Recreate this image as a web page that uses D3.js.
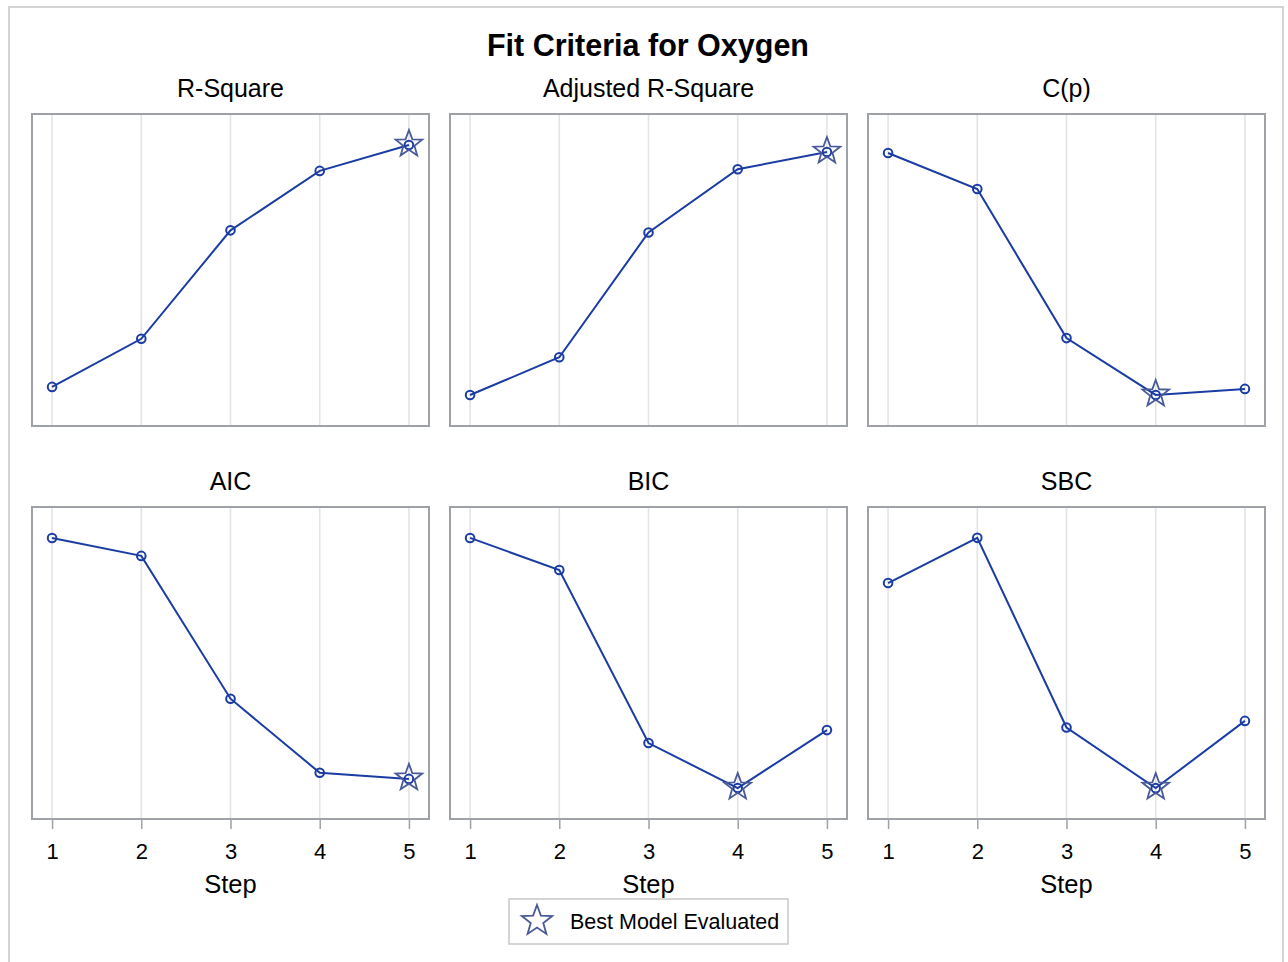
<!DOCTYPE html>
<html>
<head>
<meta charset="utf-8">
<script src="https://cdn.jsdelivr.net/npm/d3@7"></script>
<style>
  body { margin: 0; background: #fff; }
  svg { display: block; font-family: 'Liberation Sans', Arial, sans-serif; }
</style>
</head>
<body>
<div id="chart"></div>
<script>
// fit statistics by step of the stepwise selection
const steps = [1, 2, 3, 4, 5];
const panelTitles = ['R-Square', 'Adjusted R-Square', 'C(p)', 'AIC', 'BIC', 'SBC'];
const rSquare = [0.7434, 0.7642, 0.8111, 0.8368, 0.8480];
const adjRSquare = [0.7345, 0.7474, 0.7901, 0.8117, 0.8176];
const cp = [13.70, 12.39, 6.96, 4.89, 5.11];
const aic = [64.53, 63.92, 59.04, 56.51, 56.30];
const bic = [66.70, 65.63, 59.87, 58.37, 60.30];
const sbc = [67.40, 68.22, 64.78, 63.68, 64.90];
// larger is better for the first two, smaller for the rest
const bestIsMax = [true, true, false, false, false, false];
// y axis ranges (axes are hidden in the original)
const yDomains = [
  [0.7265, 0.8614],
  [0.7239, 0.8306],
  [3.76, 15.12],
  [54.93, 65.59],
  [57.34, 67.73],
  [63.12, 68.78],
];
const series = [rSquare, adjRSquare, cp, aic, bic, sbc];

const W = 1288, H = 962;
const lineColor = '#1a3ca3';
const starColor = '#4a5a98';
const colX = [32, 450, 868];
const rowY = [114, 507];
const pw = 397, ph = 312;

const svg = d3.select('#chart').append('svg')
  .attr('width', W).attr('height', H);

// outer frame
svg.append('path')
  .attr('d', `M9,${H} V7 H1283 V${H}`)
  .attr('fill', 'none')
  .attr('stroke', '#d4d4d4')
  .attr('stroke-width', 2);

svg.append('text')
  .attr('x', 648).attr('y', 56)
  .attr('text-anchor', 'middle')
  .style('font-size', '30.5px').style('font-weight', 'bold')
  .text('Fit Criteria for Oxygen');

function starPath(cx, cy, R, r) {
  const pts = [];
  for (let i = 0; i < 10; i++) {
    const a = -Math.PI / 2 + i * Math.PI / 5;
    const rad = i % 2 === 0 ? R : r;
    pts.push([cx + rad * Math.cos(a), cy + rad * Math.sin(a)]);
  }
  return 'M' + pts.map(p => p.join(',')).join('L') + 'Z';
}

series.forEach((vals, i) => {
  const col = i % 3, row = Math.floor(i / 3);
  const x0 = colX[col], y0 = rowY[row];
  const x = d3.scaleLinear().domain([0.775, 5.225]).range([x0, x0 + pw]);
  const y = d3.scaleLinear().domain(yDomains[i]).range([y0 + ph, y0]);
  const g = svg.append('g');

  g.append('text')
    .attr('x', x0 + pw / 2).attr('y', y0 - 17)
    .attr('text-anchor', 'middle')
    .style('font-size', '25px')
    .text(panelTitles[i]);

  // vertical grid
  g.selectAll('.grid').data(steps).enter().append('line')
    .attr('x1', d => x(d)).attr('x2', d => x(d))
    .attr('y1', y0).attr('y2', y0 + ph)
    .attr('stroke', '#e4e4e4').attr('stroke-width', 1.6);

  const line = d3.line().x((d, j) => x(steps[j])).y(d => y(d));
  g.append('path').datum(vals)
    .attr('d', line)
    .attr('fill', 'none').attr('stroke', lineColor).attr('stroke-width', 2);

  g.selectAll('.pt').data(vals).enter().append('circle')
    .attr('cx', (d, j) => x(steps[j])).attr('cy', d => y(d))
    .attr('r', 4.3)
    .attr('fill', 'none').attr('stroke', lineColor).attr('stroke-width', 2);

  const best = bestIsMax[i] ? d3.maxIndex(vals) : d3.minIndex(vals);
  g.append('path')
    .attr('d', starPath(x(steps[best]), y(vals[best]) - 1, 14, 5.8))
    .attr('fill', 'none').attr('stroke', starColor).attr('stroke-width', 1.8);

  g.append('rect')
    .attr('x', x0).attr('y', y0).attr('width', pw).attr('height', ph)
    .attr('fill', 'none').attr('stroke', '#9ea1a6').attr('stroke-width', 2);

  if (row === 1) {
    const axis = d3.axisBottom(x).tickValues(steps).tickSize(9).tickPadding(14)
      .tickFormat(d3.format('d'));
    const ax = g.append('g')
      .attr('transform', `translate(0,${y0 + ph + 1})`)
      .call(axis);
    ax.select('.domain').remove();
    ax.selectAll('.tick line').attr('stroke', '#9ea1a6').attr('stroke-width', 1.5);
    ax.selectAll('.tick text')
      .attr('fill', '#000')
      .style('font-size', '22px')
      .style('font-family', "'Liberation Sans', Arial, sans-serif");

    g.append('text')
      .attr('x', x0 + pw / 2).attr('y', 893)
      .attr('text-anchor', 'middle')
      .style('font-size', '25.5px')
      .text('Step');
  }
});

// legend
const lg = svg.append('g');
lg.append('rect')
  .attr('x', 509).attr('y', 899).attr('width', 279).attr('height', 45)
  .attr('fill', '#fff').attr('stroke', '#c8c8c8').attr('stroke-width', 1.5);
lg.append('path')
  .attr('d', starPath(537, 921, 16, 6.6))
  .attr('fill', 'none').attr('stroke', starColor).attr('stroke-width', 1.8);
lg.append('text')
  .attr('x', 570).attr('y', 929)
  .style('font-size', '21.5px')
  .text('Best Model Evaluated');
</script>
</body>
</html>
